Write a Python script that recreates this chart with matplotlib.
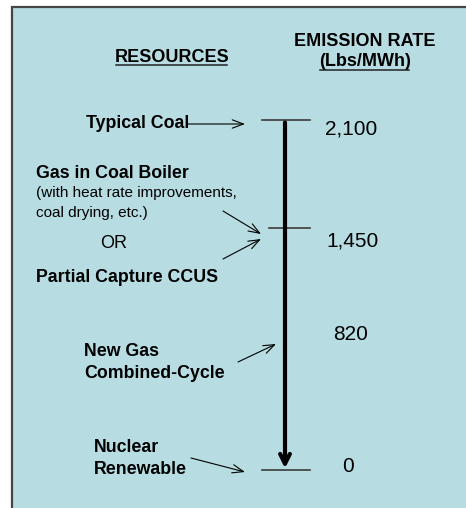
import matplotlib
matplotlib.use("Agg")
import matplotlib.pyplot as plt
from matplotlib.patches import Rectangle
from matplotlib.lines import Line2D

plt.rcParams['font.family'] = ['Liberation Sans', 'DejaVu Sans']

# emission rates (Lbs/MWh)
tick_rates = [2100, 1450, 0]
rate_labels = ['2,100', '1,450', '820', '0']
rate_label_values = [2046, 1374, 810, 24]
rate_label_x = [325, 326, 333, 342]

BOX_COLOR = '#b7dde3'

fig = plt.figure(figsize=(4.66, 5.08), dpi=100)
fig.patch.set_facecolor('white')

ax = fig.add_axes([0, 0, 1, 1])
ax.set_xlim(0, 466)
ax.set_ylim(-228, 2820)
ax.axis('off')

# background box
ax.add_patch(Rectangle((12, -400), 600, 2778 + 400, facecolor=BOX_COLOR,
                       edgecolor='#454545', lw=1.6, zorder=0, clip_on=False))

# headers
t_res = ax.text(172, 2478, 'RESOURCES', ha='center', va='center',
                fontsize=13, fontweight='bold')
ax.text(365, 2574, 'EMISSION RATE', ha='center', va='center',
        fontsize=13, fontweight='bold')
t_unit = ax.text(365, 2448, '(Lbs/MWh)', ha='center', va='center',
                 fontsize=13, fontweight='bold')

# tick marks on the scale
for rate in tick_rates:
    x0 = 269 if rate == 1450 else 262
    ax.plot([x0, 310], [rate, rate], color='#3c3c3c', lw=1.2)

# main arrow from coal down to zero
ax.annotate('', xy=(285, tick_rates[-1] + 10), xytext=(285, tick_rates[0] - 15),
            arrowprops=dict(arrowstyle='->,head_length=0.7,head_width=0.35',
                            lw=3, color='black', shrinkA=0, shrinkB=0))

for lab, v, x in zip(rate_labels, rate_label_values, rate_label_x):
    ax.text(x, v, lab, ha='left', va='center', fontsize=15)

# resource labels
bold = dict(fontsize=12.8, fontweight='bold', va='center', ha='left')
ax.text(86, 2076, 'Typical Coal', **bold)
ax.text(36, 1782, 'Gas in Coal Boiler', **bold)
ax.text(36, 1662, '(with heat rate improvements,', fontsize=11, va='center')
ax.text(36, 1542, 'coal drying, etc.)', fontsize=11, va='center')
ax.text(100, 1356, 'OR', fontsize=13, va='center')
ax.text(36, 1158, 'Partial Capture CCUS', **bold)
ax.text(84, 708, 'New Gas', **bold)
ax.text(84, 582, 'Combined-Cycle', **bold)
ax.text(94, 132, 'Nuclear', **bold)
ax.text(94, 6, 'Renewable', **bold)

thin = dict(arrowstyle='->,head_length=0.8,head_width=0.3', lw=0.8,
            color='black', shrinkA=0, shrinkB=0)
ax.annotate('', xy=(245, 2076), xytext=(188, 2076), arrowprops=thin)
ax.annotate('', xy=(261, 1416), xytext=(223, 1554), arrowprops=thin)
ax.annotate('', xy=(261, 1386), xytext=(223, 1266), arrowprops=thin)
ax.annotate('', xy=(276, 756), xytext=(238, 648), arrowprops=thin)
ax.annotate('', xy=(245, -12), xytext=(191, 72), arrowprops=thin)

# underline headers
fig.canvas.draw()
for t in (t_res, t_unit):
    bb = t.get_window_extent()
    y = bb.y0 + 0.5
    fig.add_artist(Line2D([(bb.x0 + 1) / 466, (bb.x1 - 2) / 466], [y / 508, y / 508],
                          transform=fig.transFigure, color='#222222', lw=1.1))

fig.savefig('out.png', dpi=100)
